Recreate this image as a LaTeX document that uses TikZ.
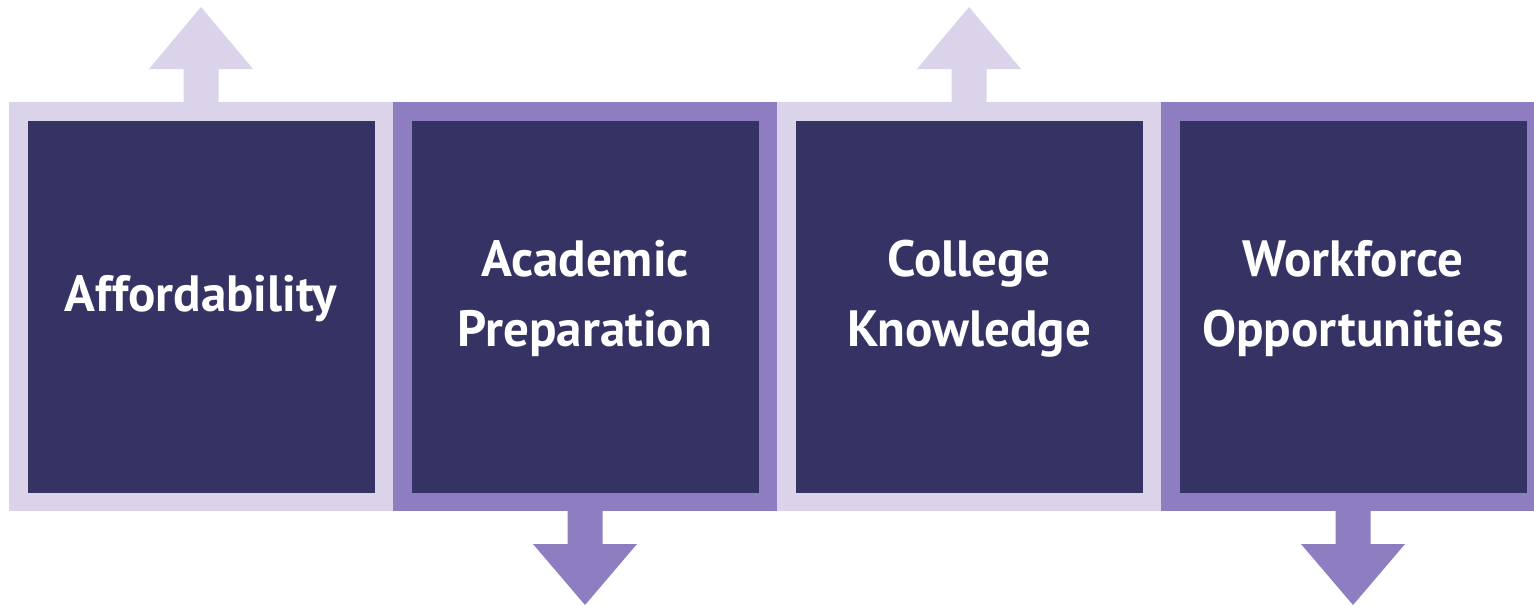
\documentclass[tikz,border=0pt]{standalone}
\usepackage{fontspec}
\setmainfont{PT Sans}
\usetikzlibrary{positioning,calc}
\definecolor{pillarlight}{HTML}{DAD3E9}
\definecolor{pillarmid}{HTML}{8E7DC1}
\definecolor{pillardark}{HTML}{343363}

% block arrows sticking out of a frame: \blockup{node}{colour}, \blockdown{node}{colour}
\newcommand{\blockup}[2]{%
  \fill[#2] ($(#1.north)+(-17.5,0)$) -- ++(0,-33) -- ++(-34.5,0)
    -- ($(#1.north)+(0,-95)$) -- ($(#1.north)+(52,-33)$) -- ++(-34.5,0)
    -- ($(#1.north)+(17.5,0)$) -- cycle;
}
\newcommand{\blockdown}[2]{%
  \fill[#2] ($(#1.south)+(-17.5,0)$) -- ++(0,33) -- ++(-34.5,0)
    -- ($(#1.south)+(0,94)$) -- ($(#1.south)+(52,33)$) -- ++(-34.5,0)
    -- ($(#1.south)+(17.5,0)$) -- cycle;
}

\begin{document}
\begin{tikzpicture}[x=0.5pt,y=-0.5pt,
  frame/.style={fill=#1, minimum width=192pt, minimum height=204.5pt,
    inner sep=0pt, outer sep=0pt},
  pillar/.style={fill=pillardark, minimum width=173.5pt, minimum height=186pt,
    inner sep=0pt, outer sep=0pt},
  pillartext/.style={text=white, align=center, font=\bfseries\fontsize{25.5}{35}\selectfont}]
  \useasboundingbox (0,0) rectangle (1534,606);

  % outer frames
  \node[frame=pillarlight] (f1) at (201,306.5) {};
  \node[frame=pillarmid, right=0pt of f1] (f2) {};
  \node[frame=pillarlight, right=0pt of f2] (f3) {};
  \node[frame=pillarmid, right=0pt of f3] (f4) {};

  % arrows
  \blockup{f1}{pillarlight}
  \blockdown{f2}{pillarmid}
  \blockup{f3}{pillarlight}
  \blockdown{f4}{pillarmid}

  % dark squares with their labels
  \foreach \i/\txt in {1/Affordability, 2/Academic\\Preparation,
                       3/College\\Knowledge, 4/Workforce\\Opportunities} {
    \node[pillar] (p\i) at (f\i.center) {};
    \node[pillartext] (t\i) at ($(p\i.center)+(0,-8)$) {\txt};
  }
\end{tikzpicture}
\end{document}
